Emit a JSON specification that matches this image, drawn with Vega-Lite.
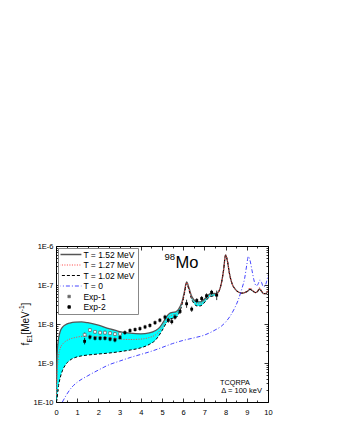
{
  "$schema": "https://vega.github.io/schema/vega-lite/v6.json",
  "width": 212,
  "height": 156,
  "autosize": {"type": "none"},
  "padding": {"left": 56, "top": 246, "right": 72, "bottom": 38},
  "background": "white",
  "config": {
    "font": "Liberation Sans",
    "view": {"stroke": "black", "strokeWidth": 1},
    "axis": {"grid": false, "domain": false, "tickColor": "black", "tickWidth": 0.8, "labelFont": "Liberation Sans", "labelColor": "black", "labelFontSize": 7.5, "title": null, "labelFlush": false, "labelOverlap": false}
  },
  "resolve": {"axis": {"x": "independent", "y": "independent"}},
  "datasets": {
    "hot": [
      {"x": 0.02, "a": 3e-10, "b": 1.5e-10, "c": 1.0e-10},
      {"x": 0.05, "a": 1.5e-9, "b": 5e-10, "c": 1.2e-10},
      {"x": 0.1, "a": 3.5e-9, "b": 1.2e-9, "c": 2.2e-10},
      {"x": 0.2, "a": 6.5e-9, "b": 2.4e-9, "c": 4.2e-10},
      {"x": 0.3, "a": 8.2e-9, "b": 3.0e-9, "c": 6.3e-10},
      {"x": 0.45, "a": 9.6e-9, "b": 3.6e-9, "c": 9e-10},
      {"x": 0.65, "a": 1.06e-8, "b": 4.1e-9, "c": 1.17e-9},
      {"x": 0.9, "a": 1.12e-8, "b": 4.5e-9, "c": 1.38e-9},
      {"x": 1.2, "a": 1.13e-8, "b": 4.8e-9, "c": 1.52e-9},
      {"x": 1.5, "a": 1.08e-8, "b": 4.9e-9, "c": 1.6e-9},
      {"x": 2.0, "a": 9.3e-9, "b": 4.7e-9, "c": 1.7e-9},
      {"x": 2.5, "a": 7.6e-9, "b": 4.4e-9, "c": 1.8e-9},
      {"x": 3.0, "a": 6.4e-9, "b": 4.1e-9, "c": 1.95e-9},
      {"x": 3.5, "a": 5.8e-9, "b": 4.0e-9, "c": 2.15e-9},
      {"x": 4.0, "a": 5.6e-9, "b": 4.1e-9, "c": 2.45e-9},
      {"x": 4.4, "a": 5.9e-9, "b": 4.5e-9, "c": 3.0e-9},
      {"x": 4.7, "a": 6.8e-9, "b": 5.3e-9, "c": 3.9e-9},
      {"x": 4.9, "a": 8.3e-9, "b": 6.8e-9, "c": 5.5e-9},
      {"x": 5.05, "a": 1.1e-8, "b": 9e-9, "c": 7.5e-9},
      {"x": 5.2, "a": 1.5e-8, "b": 1.25e-8, "c": 1.05e-8},
      {"x": 5.35, "a": 1.85e-8, "b": 1.55e-8, "c": 1.3e-8},
      {"x": 5.5, "a": 2.0e-8, "b": 1.7e-8, "c": 1.4e-8},
      {"x": 5.65, "a": 2.05e-8, "b": 1.75e-8, "c": 1.45e-8},
      {"x": 5.8, "a": 2.5e-8, "b": 2.2e-8, "c": 1.9e-8},
      {"x": 5.95, "a": 3.8e-8, "b": 3.5e-8, "c": 3.2e-8},
      {"x": 6.05, "a": 6.5e-8, "b": 6e-8, "c": 5.6e-8},
      {"x": 6.16, "a": 1.2e-7, "b": 1.15e-7, "c": 1.1e-7},
      {"x": 6.27, "a": 8.5e-8, "b": 8e-8, "c": 7.5e-8},
      {"x": 6.38, "a": 5.5e-8, "b": 5e-8, "c": 4.6e-8},
      {"x": 6.5, "a": 4.2e-8, "b": 3.8e-8, "c": 3.4e-8},
      {"x": 6.65, "a": 3.7e-8, "b": 3.3e-8, "c": 2.9e-8},
      {"x": 6.8, "a": 3.7e-8, "b": 3.3e-8, "c": 2.9e-8},
      {"x": 6.95, "a": 4.1e-8, "b": 3.7e-8, "c": 3.3e-8},
      {"x": 7.1, "a": 4.9e-8, "b": 4.5e-8, "c": 4.1e-8},
      {"x": 7.25, "a": 5.9e-8, "b": 5.4e-8, "c": 5.0e-8},
      {"x": 7.4, "a": 6.1e-8, "b": 5.6e-8, "c": 5.2e-8},
      {"x": 7.55, "a": 6.0e-8, "b": 5.7e-8, "c": 5.4e-8},
      {"x": 7.7, "a": 7.2e-8, "b": 7.2e-8, "c": 7.2e-8},
      {"x": 7.8, "a": 1.1e-7, "b": 1.1e-7, "c": 1.1e-7},
      {"x": 7.9, "a": 2.3e-7, "b": 2.3e-7, "c": 2.3e-7},
      {"x": 8.0, "a": 5.9e-7, "b": 5.9e-7, "c": 5.9e-7},
      {"x": 8.08, "a": 4.3e-7, "b": 4.3e-7, "c": 4.3e-7},
      {"x": 8.18, "a": 2.0e-7, "b": 2.0e-7, "c": 2.0e-7},
      {"x": 8.3, "a": 1.1e-7, "b": 1.1e-7, "c": 1.1e-7},
      {"x": 8.45, "a": 7.8e-8, "b": 7.8e-8, "c": 7.8e-8},
      {"x": 8.6, "a": 6.6e-8, "b": 6.6e-8, "c": 6.6e-8},
      {"x": 8.75, "a": 6.2e-8, "b": 6.2e-8, "c": 6.2e-8},
      {"x": 8.9, "a": 6.4e-8, "b": 6.4e-8, "c": 6.4e-8},
      {"x": 9.05, "a": 7.0e-8, "b": 7.2e-8, "c": 7.0e-8},
      {"x": 9.15, "a": 7.8e-8, "b": 8.5e-8, "c": 7.8e-8},
      {"x": 9.25, "a": 7.2e-8, "b": 7.6e-8, "c": 7.2e-8},
      {"x": 9.4, "a": 6.4e-8, "b": 6.4e-8, "c": 6.4e-8},
      {"x": 9.5, "a": 6.7e-8, "b": 6.9e-8, "c": 6.7e-8},
      {"x": 9.6, "a": 8.0e-8, "b": 8.6e-8, "c": 8.0e-8},
      {"x": 9.7, "a": 6.8e-8, "b": 7.0e-8, "c": 6.8e-8},
      {"x": 9.8, "a": 6.0e-8, "b": 6.0e-8, "c": 6.0e-8},
      {"x": 9.9, "a": 6.0e-8, "b": 6.2e-8, "c": 6.0e-8},
      {"x": 10.0, "a": 7.0e-8, "b": 7.2e-8, "c": 7.0e-8}
    ],
    "cold": [
      {"x": 0.3, "y": 1.0e-10}, {"x": 0.4, "y": 1.25e-10}, {"x": 0.5, "y": 1.55e-10},
      {"x": 0.75, "y": 2.4e-10}, {"x": 1.0, "y": 3.2e-10}, {"x": 1.5, "y": 4.7e-10},
      {"x": 2.0, "y": 6.6e-10}, {"x": 2.5, "y": 9e-10}, {"x": 3.0, "y": 1.12e-9},
      {"x": 3.5, "y": 1.38e-9}, {"x": 4.0, "y": 1.66e-9}, {"x": 4.5, "y": 2.0e-9},
      {"x": 5.0, "y": 2.5e-9}, {"x": 5.5, "y": 3.15e-9}, {"x": 6.0, "y": 3.8e-9},
      {"x": 6.5, "y": 4.4e-9}, {"x": 7.0, "y": 5.2e-9}, {"x": 7.5, "y": 7.0e-9},
      {"x": 7.8, "y": 8.8e-9}, {"x": 8.0, "y": 1.12e-8}, {"x": 8.2, "y": 1.55e-8},
      {"x": 8.4, "y": 2.4e-8}, {"x": 8.6, "y": 4.2e-8}, {"x": 8.75, "y": 7.5e-8},
      {"x": 8.9, "y": 1.5e-7}, {"x": 9.0, "y": 3.3e-7}, {"x": 9.07, "y": 5.4e-7},
      {"x": 9.15, "y": 4.3e-7}, {"x": 9.25, "y": 2.3e-7}, {"x": 9.35, "y": 1.25e-7},
      {"x": 9.45, "y": 9.5e-8}, {"x": 9.53, "y": 1.05e-7}, {"x": 9.62, "y": 1.35e-7},
      {"x": 9.7, "y": 1.15e-7}, {"x": 9.78, "y": 9e-8}, {"x": 9.86, "y": 9.5e-8},
      {"x": 9.93, "y": 1.2e-7}, {"x": 10.0, "y": 1.8e-7}
    ],
    "exp": [
      {"set": "Exp-1", "x": 1.35, "y": 5.3e-9, "lo": 4.7e-9, "hi": 6.0e-9},
      {"set": "Exp-1", "x": 1.6, "y": 7.0e-9, "lo": 6.2e-9, "hi": 7.8e-9},
      {"set": "Exp-1", "x": 1.84, "y": 6.3e-9, "lo": 5.6e-9, "hi": 7.0e-9},
      {"set": "Exp-1", "x": 2.08, "y": 6.0e-9, "lo": 5.4e-9, "hi": 6.7e-9},
      {"set": "Exp-1", "x": 2.31, "y": 6.0e-9, "lo": 5.4e-9, "hi": 6.7e-9},
      {"set": "Exp-1", "x": 2.55, "y": 5.8e-9, "lo": 5.2e-9, "hi": 6.5e-9},
      {"set": "Exp-1", "x": 2.78, "y": 5.5e-9, "lo": 4.9e-9, "hi": 6.2e-9},
      {"set": "Exp-1", "x": 3.02, "y": 5.6e-9, "lo": 5.0e-9, "hi": 6.3e-9},
      {"set": "Exp-2", "x": 1.35, "y": 3.6e-9, "lo": 3.0e-9, "hi": 4.4e-9},
      {"set": "Exp-2", "x": 1.6, "y": 4.6e-9, "lo": 4.0e-9, "hi": 5.3e-9},
      {"set": "Exp-2", "x": 1.84, "y": 4.3e-9, "lo": 3.8e-9, "hi": 4.9e-9},
      {"set": "Exp-2", "x": 2.08, "y": 4.3e-9, "lo": 3.8e-9, "hi": 4.9e-9},
      {"set": "Exp-2", "x": 2.31, "y": 4.3e-9, "lo": 3.8e-9, "hi": 4.9e-9},
      {"set": "Exp-2", "x": 2.55, "y": 4.1e-9, "lo": 3.6e-9, "hi": 4.7e-9},
      {"set": "Exp-2", "x": 2.78, "y": 3.9e-9, "lo": 3.4e-9, "hi": 4.5e-9},
      {"set": "Exp-2", "x": 3.02, "y": 4.5e-9, "lo": 4.0e-9, "hi": 5.1e-9},
      {"set": "Exp-2", "x": 3.25, "y": 6.0e-9, "lo": 5.3e-9, "hi": 6.8e-9},
      {"set": "Exp-2", "x": 3.49, "y": 6.8e-9, "lo": 6.0e-9, "hi": 7.7e-9},
      {"set": "Exp-2", "x": 3.73, "y": 7.2e-9, "lo": 6.4e-9, "hi": 8.1e-9},
      {"set": "Exp-2", "x": 3.96, "y": 7.6e-9, "lo": 6.7e-9, "hi": 8.6e-9},
      {"set": "Exp-2", "x": 4.2, "y": 8.4e-9, "lo": 7.4e-9, "hi": 9.5e-9},
      {"set": "Exp-2", "x": 4.43, "y": 9.2e-9, "lo": 8.1e-9, "hi": 1.04e-8},
      {"set": "Exp-2", "x": 4.67, "y": 1.08e-8, "lo": 9.5e-9, "hi": 1.22e-8},
      {"set": "Exp-2", "x": 4.9, "y": 1.25e-8, "lo": 1.1e-8, "hi": 1.42e-8},
      {"set": "Exp-2", "x": 5.14, "y": 1.5e-8, "lo": 1.3e-8, "hi": 1.72e-8},
      {"set": "Exp-2", "x": 5.3, "y": 1.25e-8, "lo": 1.08e-8, "hi": 1.45e-8},
      {"set": "Exp-2", "x": 5.46, "y": 1.15e-8, "lo": 9.8e-9, "hi": 1.35e-8},
      {"set": "Exp-2", "x": 5.61, "y": 1.5e-8, "lo": 1.3e-8, "hi": 1.75e-8},
      {"set": "Exp-2", "x": 5.85, "y": 2.1e-8, "lo": 1.8e-8, "hi": 2.45e-8},
      {"set": "Exp-2", "x": 6.16, "y": 3.3e-8, "lo": 2.6e-8, "hi": 4.2e-8},
      {"set": "Exp-2", "x": 6.4, "y": 2.4e-8, "lo": 2.05e-8, "hi": 2.8e-8},
      {"set": "Exp-2", "x": 6.64, "y": 4.0e-8, "lo": 3.5e-8, "hi": 4.6e-8},
      {"set": "Exp-2", "x": 6.87, "y": 4.5e-8, "lo": 3.9e-8, "hi": 5.2e-8},
      {"set": "Exp-2", "x": 7.1, "y": 5.3e-8, "lo": 4.6e-8, "hi": 6.1e-8},
      {"set": "Exp-2", "x": 7.34, "y": 6.5e-8, "lo": 5.6e-8, "hi": 7.5e-8},
      {"set": "Exp-2", "x": 7.58, "y": 5.5e-8, "lo": 4.1e-8, "hi": 7.2e-8}
    ],
    "one": [{}]
  },
  "layer": [
    {
      "data": {"name": "hot"},
      "transform": [{"filter": "datum.x <= 7.56"}],
      "mark": {"type": "area", "color": "#00ffff", "clip": true, "interpolate": "monotone"},
      "encoding": {
        "x": {"field": "x", "type": "quantitative", "scale": {"domain": [0, 10], "nice": false, "zero": false},
          "axis": {"orient": "bottom", "values": [0,1,2,3,4,5,6,7,8,9,10], "tickSize": -4, "labelPadding": 10}},
        "y": {"field": "a", "type": "quantitative", "scale": {"type": "log", "domain": [1e-10, 1e-6], "nice": false},
          "axis": {"orient": "left", "values": [1e-10, 1e-9, 1e-8, 1e-7, 1e-6], "tickSize": -4, "labelPadding": 7,
            "labelExpr": "'1E' + round(log(datum.value) / LN10)"}},
        "y2": {"field": "c"}
      }
    },
    {
      "data": {"name": "hot"},
      "mark": {"type": "line", "strokeWidth": 1.3, "clip": true, "interpolate": "monotone"},
      "encoding": {
        "x": {"field": "x", "type": "quantitative",
          "axis": {"orient": "bottom", "values": [0.5,1.5,2.5,3.5,4.5,5.5,6.5,7.5,8.5,9.5], "tickSize": -2, "labels": false}},
        "y": {"field": "a", "type": "quantitative",
          "axis": {"orient": "left", "tickSize": -2, "labels": false,
            "values": [2e-10,3e-10,4e-10,5e-10,6e-10,7e-10,8e-10,9e-10,2e-9,3e-9,4e-9,5e-9,6e-9,7e-9,8e-9,9e-9,2e-8,3e-8,4e-8,5e-8,6e-8,7e-8,8e-8,9e-8,2e-7,3e-7,4e-7,5e-7,6e-7,7e-7,8e-7,9e-7]}},
        "color": {"datum": "T = 1.52 MeV",
          "scale": {"domain": ["T = 1.52 MeV", "T = 1.27 MeV", "T = 1.02 MeV", "T = 0", "Exp-1", "Exp-2"],
                    "range": ["#555555", "#ff4040", "#000000", "#3030ff", "#666666", "#000000"]},
          "legend": {
            "orient": "top-left", "offset": 2, "title": null, "padding": 2.5,
            "strokeColor": "#888888", "fillColor": "white",
            "labelFont": "Liberation Sans", "labelFontSize": 8.5, "labelColor": "black", "labelOffset": 10,
            "rowPadding": 1.5, "symbolSize": 600, "symbolStrokeWidth": 1.2, "symbolType": "stroke", "clipHeight": 8,
            "symbolOffset": 4.4,
            "encode": {"symbols": {"update": {
              "shape": {"signal": "datum.value == 'Exp-1' || datum.value == 'Exp-2' ? 'square' : 'stroke'"},
              "size": {"signal": "datum.value == 'Exp-1' ? 7 : datum.value == 'Exp-2' ? 6 : 600"},
              "strokeWidth": {"signal": "datum.value == 'T = 1.52 MeV' ? 1.6 : datum.value == 'T = 0' ? 0.9 : datum.value == 'Exp-1' ? 0.6 : 1"},
              "strokeDash": {"signal": "datum.value == 'T = 1.27 MeV' ? [1, 1.5] : datum.value == 'T = 1.02 MeV' ? [3, 2] : datum.value == 'T = 0' ? [4, 2, 1, 2] : [1, 0]"},
              "fill": {"signal": "datum.value == 'Exp-2' ? 'black' : datum.value == 'Exp-1' ? 'white' : 'transparent'"}
            }}}
          }}
      }
    },
    {
      "data": {"name": "hot"},
      "mark": {"type": "line", "strokeWidth": 1, "strokeDash": [3, 2], "clip": true, "interpolate": "monotone"},
      "encoding": {
        "x": {"field": "x", "type": "quantitative",
          "axis": {"orient": "top", "values": [0,1,2,3,4,5,6,7,8,9,10], "tickSize": -4, "labels": false}},
        "y": {"field": "c", "type": "quantitative",
          "axis": {"orient": "right", "values": [1e-10, 1e-9, 1e-8, 1e-7, 1e-6], "tickSize": -4, "labels": false}},
        "color": {"datum": "T = 1.02 MeV"}
      }
    },
    {
      "data": {"name": "hot"},
      "mark": {"type": "line", "strokeWidth": 1, "strokeDash": [1, 1.5], "clip": true, "interpolate": "monotone"},
      "encoding": {
        "x": {"field": "x", "type": "quantitative",
          "axis": {"orient": "top", "values": [0.5,1.5,2.5,3.5,4.5,5.5,6.5,7.5,8.5,9.5], "tickSize": -2, "labels": false}},
        "y": {"field": "b", "type": "quantitative",
          "axis": {"orient": "right", "tickSize": -2, "labels": false,
            "values": [2e-10,3e-10,4e-10,5e-10,6e-10,7e-10,8e-10,9e-10,2e-9,3e-9,4e-9,5e-9,6e-9,7e-9,8e-9,9e-9,2e-8,3e-8,4e-8,5e-8,6e-8,7e-8,8e-8,9e-8,2e-7,3e-7,4e-7,5e-7,6e-7,7e-7,8e-7,9e-7]}},
        "color": {"datum": "T = 1.27 MeV"}
      }
    },
    {
      "data": {"name": "cold"},
      "mark": {"type": "line", "strokeWidth": 0.9, "strokeDash": [4, 2, 1, 2], "clip": true, "interpolate": "monotone"},
      "encoding": {
        "x": {"field": "x", "type": "quantitative", "axis": null},
        "y": {"field": "y", "type": "quantitative", "axis": null},
        "color": {"datum": "T = 0"}
      }
    },
    {
      "data": {"name": "exp"},
      "mark": {"type": "rule", "strokeWidth": 0.8, "color": "black"},
      "encoding": {
        "x": {"field": "x", "type": "quantitative", "axis": null},
        "y": {"field": "lo", "type": "quantitative", "axis": null},
        "y2": {"field": "hi"}
      }
    },
    {
      "data": {"name": "exp"},
      "transform": [{"filter": "datum.set == 'Exp-1'"}],
      "mark": {"type": "point", "shape": "square", "size": 8, "filled": false, "fill": "white", "fillOpacity": 1, "strokeWidth": 0.7, "opacity": 1},
      "encoding": {
        "x": {"field": "x", "type": "quantitative", "axis": null},
        "y": {"field": "y", "type": "quantitative", "axis": null},
        "color": {"datum": "Exp-1"}
      }
    },
    {
      "data": {"name": "exp"},
      "transform": [{"filter": "datum.set == 'Exp-2'"}],
      "mark": {"type": "point", "shape": "square", "size": 8, "filled": true, "opacity": 1},
      "encoding": {
        "x": {"field": "x", "type": "quantitative", "axis": null},
        "y": {"field": "y", "type": "quantitative", "axis": null},
        "color": {"datum": "Exp-2"}
      }
    },
    {
      "data": {"name": "one"},
      "mark": {"type": "text", "fontSize": 9.5, "align": "left", "baseline": "alphabetic", "color": "black"},
      "encoding": {"x": {"datum": 5.12, "type": "quantitative", "axis": null}, "y": {"datum": 4.38e-7, "type": "quantitative", "axis": null}, "text": {"value": "98"}}
    },
    {
      "data": {"name": "one"},
      "mark": {"type": "text", "fontSize": 16.5, "align": "left", "baseline": "alphabetic", "color": "black"},
      "encoding": {"x": {"datum": 5.64, "type": "quantitative", "axis": null}, "y": {"datum": 2.65e-7, "type": "quantitative", "axis": null}, "text": {"value": "Mo"}}
    },
    {
      "data": {"name": "one"},
      "mark": {"type": "text", "fontSize": 7.3, "align": "left", "baseline": "alphabetic", "color": "black"},
      "encoding": {"x": {"datum": 7.74, "type": "quantitative", "axis": null}, "y": {"datum": 2.81e-10, "type": "quantitative", "axis": null}, "text": {"value": "TCQRPA"}}
    },
    {
      "data": {"name": "one"},
      "mark": {"type": "text", "fontSize": 7.5, "align": "left", "baseline": "alphabetic", "color": "black"},
      "encoding": {"x": {"datum": 7.8, "type": "quantitative", "axis": null}, "y": {"datum": 1.7e-10, "type": "quantitative", "axis": null}, "text": {"value": "Δ = 100 keV"}}
    },
    {
      "data": {"name": "one"},
      "mark": {"type": "text", "fontSize": 10, "angle": 270, "align": "left", "baseline": "alphabetic", "color": "black"},
      "encoding": {"x": {"datum": -1.27, "type": "quantitative", "axis": null}, "y": {"datum": 2.83e-9, "type": "quantitative", "axis": null}, "text": {"value": "f"}}
    },
    {
      "data": {"name": "one"},
      "mark": {"type": "text", "fontSize": 6.5, "angle": 270, "align": "left", "baseline": "alphabetic", "color": "black"},
      "encoding": {"x": {"datum": -1.13, "type": "quantitative", "axis": null}, "y": {"datum": 3.34e-9, "type": "quantitative", "axis": null}, "text": {"value": "E1"}}
    },
    {
      "data": {"name": "one"},
      "mark": {"type": "text", "fontSize": 10, "angle": 270, "align": "left", "baseline": "alphabetic", "color": "black"},
      "encoding": {"x": {"datum": -1.27, "type": "quantitative", "axis": null}, "y": {"datum": 5.35e-9, "type": "quantitative", "axis": null}, "text": {"value": "[MeV"}}
    },
    {
      "data": {"name": "one"},
      "mark": {"type": "text", "fontSize": 6.5, "angle": 270, "align": "left", "baseline": "alphabetic", "color": "black"},
      "encoding": {"x": {"datum": -1.53, "type": "quantitative", "axis": null}, "y": {"datum": 2.12e-8, "type": "quantitative", "axis": null}, "text": {"value": "-1"}}
    },
    {
      "data": {"name": "one"},
      "mark": {"type": "text", "fontSize": 10, "angle": 270, "align": "left", "baseline": "alphabetic", "color": "black"},
      "encoding": {"x": {"datum": -1.27, "type": "quantitative", "axis": null}, "y": {"datum": 2.98e-8, "type": "quantitative", "axis": null}, "text": {"value": "]"}}
    }
  ]
}
